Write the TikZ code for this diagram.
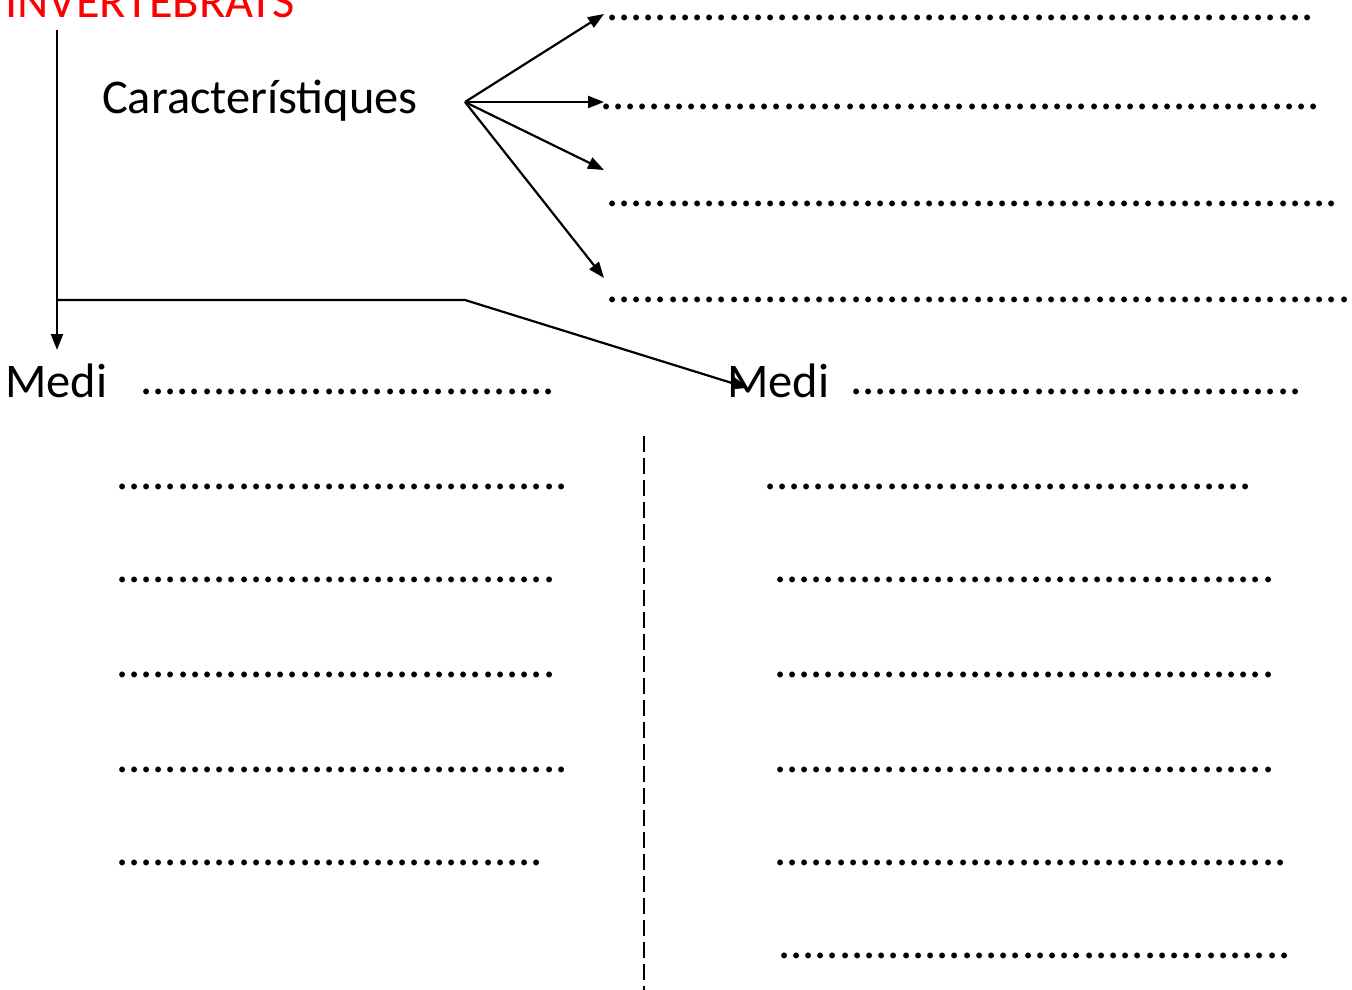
\documentclass[tikz,border=0pt]{standalone}
\usepackage{fontspec}
\setmainfont{Carlito}
\usetikzlibrary{arrows.meta}
\definecolor{titlered}{RGB}{255,0,0}
\tikzset{
  word/.style={
    anchor=base west,
    inner sep=0pt,
    font=\fontsize{48.4}{58}\selectfont
  },
  dotrow/.style={word},
  link/.style={line width=2.2pt},
  arrowlink/.style={
    link,
    -{Triangle[length=16pt,width=12pt]}
  },
  divider/.style={
    line width=1.6pt,
    dash pattern=on 16pt off 6pt
  }
}
\newcommand{\blankdots}[1]{\foreach \k in {1,...,#1}{.}}

\begin{document}
\begin{tikzpicture}[x=1pt,y=-1pt]
  \useasboundingbox (0,0) rectangle (1352,990);
  % headings
  \node[word, text=titlered] (title) at (5,18) {INVERTEBRATS};
  \node[word] (char) at (102,113) {Característiques};
  \node[word] (mediL) at (5,397) {Medi};
  \node[word] (mediR) at (727,397) {Medi};
  % answer lines, characteristics
  \node[dotrow] (charA) at (606,21) {\blankdots{58}};
  \node[dotrow] (charB) at (600,110) {\blankdots{59}};
  \node[dotrow] (charC) at (606,206) {\blankdots{60}};
  \node[dotrow] (charD) at (606,302) {\blankdots{61}};
  % answer lines, habitats
  \node[dotrow] (mediLdots) at (140,394) {\blankdots{34}};
  \node[dotrow] (mediRdots) at (850,394) {\blankdots{37}};
  \node[dotrow] (leftA) at (116,489) {\blankdots{37}};
  \node[dotrow] (leftB) at (116,582) {\blankdots{36}};
  \node[dotrow] (leftC) at (116,677) {\blankdots{36}};
  \node[dotrow] (leftD) at (116,772) {\blankdots{37}};
  \node[dotrow] (leftE) at (116,865) {\blankdots{35}};
  \node[dotrow] (rightA) at (764,489) {\blankdots{40}};
  \node[dotrow] (rightB) at (774,582) {\blankdots{41}};
  \node[dotrow] (rightC) at (774,677) {\blankdots{41}};
  \node[dotrow] (rightD) at (774,772) {\blankdots{41}};
  \node[dotrow] (rightE) at (774,865) {\blankdots{42}};
  \node[dotrow] (rightF) at (778,958) {\blankdots{42}};
  % connectors
  \coordinate (stemtop) at (57,30);
  \coordinate (stemtip) at (57,350);
  \coordinate (branch) at (57,300);
  \coordinate (bend) at (465,300);
  \coordinate (fan) at (465,102);
  \coordinate (tipA) at (604,14);
  \coordinate (tipB) at (604,102);
  \coordinate (tipC) at (604,170);
  \coordinate (tipD) at (604,278);
  \coordinate (tipM) at (748,388);
  \draw[arrowlink] (stemtop) -- (stemtip);
  \draw[arrowlink] (branch) -- (bend) -- (tipM);
  \foreach \t in {tipA,tipB,tipC,tipD}
    \draw[arrowlink] (fan) -- (\t);
  \coordinate (divtop) at (644,436);
  \coordinate (divbot) at (644,990);
  \draw[divider] (divtop) -- (divbot);
\end{tikzpicture}
\end{document}
